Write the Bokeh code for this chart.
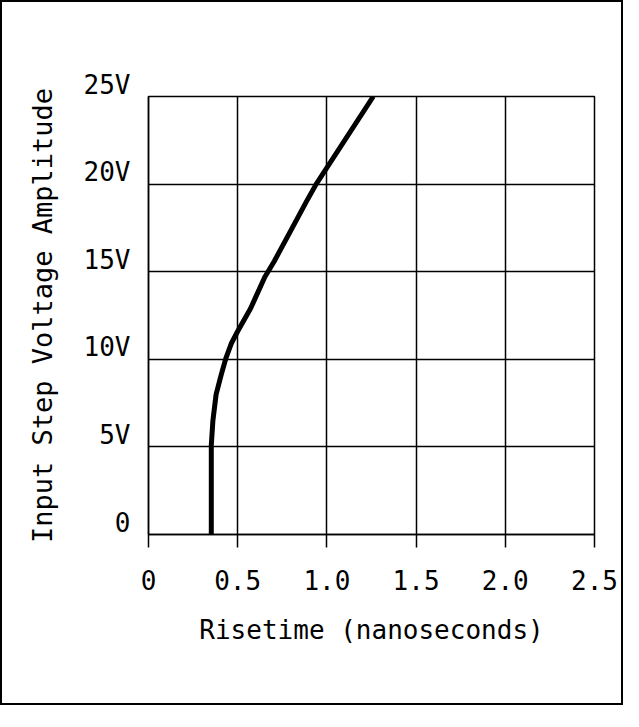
from bokeh.plotting import figure
from bokeh.models import Range1d, FixedTicker
from bokeh.embed import file_html
from bokeh.resources import INLINE

# Data
risetime_ns = [0.352, 0.352, 0.361, 0.379, 0.407, 0.435, 0.464, 0.50, 0.572,
               0.652, 0.705, 0.79, 0.885, 0.94, 1.26]
step_voltage = [0, 5.1, 6.5, 8.0, 9.1, 10.1, 10.9, 11.6, 12.9,
                14.7, 15.6, 17.2, 19.0, 20.0, 25]

x_ticks = [0, 0.5, 1.0, 1.5, 2.0, 2.5]
x_tick_labels = ["0", "0.5", "1.0", "1.5", "2.0", "2.5"]
y_ticks = [0, 5, 10, 15, 20, 25]
y_tick_labels = ["0", "5V", "10V", "15V", "20V", "25V"]

FONT = "DejaVu Sans Mono"

p = figure(
    width=623, height=705,
    output_backend="svg", toolbar_location=None,
    x_range=Range1d(0, 2.5), y_range=Range1d(0, 25),
    min_border_left=146, min_border_right=31,
    min_border_top=94, min_border_bottom=173,
    background_fill_color="white", border_fill_color="white",
    styles={"border": "2px solid black", "box-sizing": "border-box"},
)

p.outline_line_color = "black"
p.outline_line_width = 1.5

# grid
for g in (p.xgrid, p.ygrid):
    g.grid_line_color = "black"
    g.grid_line_width = 1.5
    g.grid_line_alpha = 1.0
p.xgrid.ticker = FixedTicker(ticks=x_ticks)
p.ygrid.ticker = FixedTicker(ticks=y_ticks)

# x axis
xa = p.xaxis[0]
xa.ticker = FixedTicker(ticks=x_ticks)
xa.major_label_overrides = {t: l for t, l in zip(x_ticks, x_tick_labels)}
xa.axis_line_color = "black"
xa.axis_line_width = 1.5
xa.major_tick_line_color = "black"
xa.major_tick_line_width = 1.5
xa.major_tick_in = 0
xa.major_tick_out = 13
xa.minor_tick_line_color = None
xa.major_label_standoff = 22
xa.major_label_text_font = FONT
xa.major_label_text_font_size = "26px"
xa.major_label_text_color = "black"
xa.axis_label = "Risetime (nanoseconds)"
xa.axis_label_text_font = FONT
xa.axis_label_text_font_size = "26px"
xa.axis_label_text_font_style = "normal"
xa.axis_label_text_color = "black"
xa.axis_label_standoff = 22

# y axis: labels sit just above their grid lines (empty second line lifts them)
ya = p.yaxis[0]
ya.ticker = FixedTicker(ticks=y_ticks)
ya.major_label_overrides = {t: l + "\n" for t, l in zip(y_ticks, y_tick_labels)}
ya.axis_line_color = "black"
ya.axis_line_width = 1.5
ya.major_tick_line_color = None
ya.major_tick_in = 0
ya.major_tick_out = 0
ya.minor_tick_line_color = None
ya.major_label_standoff = 18
ya.major_label_text_font = FONT
ya.major_label_text_font_size = "26px"
ya.major_label_text_line_height = 0.8
ya.major_label_text_color = "black"
ya.axis_label = "Input Step Voltage Amplitude"
ya.axis_label_text_font = FONT
ya.axis_label_text_font_size = "27px"
ya.axis_label_text_font_style = "normal"
ya.axis_label_text_color = "black"
ya.axis_label_standoff = 23

# curve
p.line(risetime_ns, step_voltage, line_color="black", line_width=5,
       line_join="round", line_cap="butt")

open("out.html", "w").write(file_html(p, INLINE))
